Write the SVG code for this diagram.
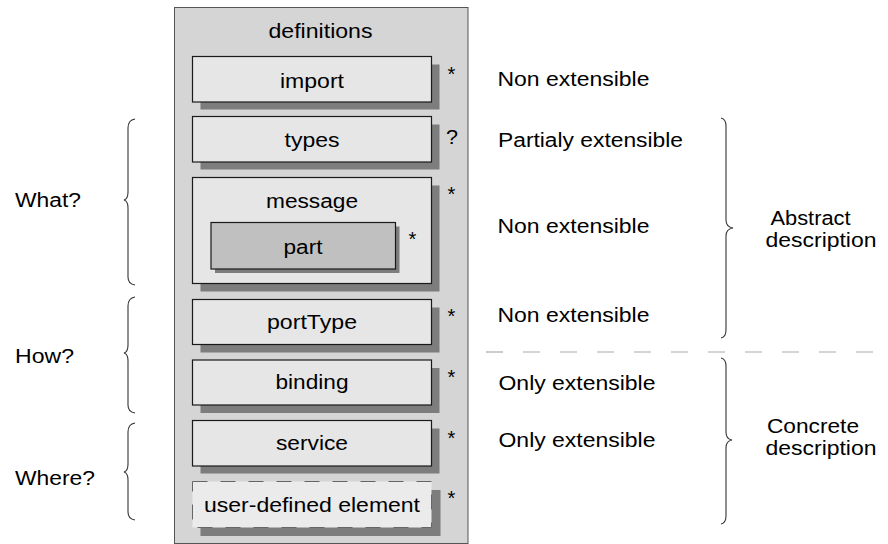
<svg xmlns="http://www.w3.org/2000/svg" width="888" height="544" viewBox="0 0 888 544">
<style>
text{font-family:"Liberation Sans",Arial,sans-serif;font-size:20px;fill:#000}
.c{text-anchor:middle}
.outer{fill:#d5d5d5;stroke:#555;stroke-width:1}
.box{fill:#e6e6e6;stroke:#1a1a1a;stroke-width:1.2}
.part{fill:#c0c0c0;stroke:#1a1a1a;stroke-width:1.2}
.ud{fill:#ebebeb;stroke:#666;stroke-width:1;stroke-dasharray:15 13}
.sh{fill:#7d7d7d}
.brace{fill:none;stroke:#333;stroke-width:1.1}
.sep{fill:none;stroke:#aaa;stroke-width:1.2;stroke-dasharray:17 20}
.star{font-size:20px}
</style>
<rect width="888" height="544" fill="#fff"/>

<g id="definitions">
  <rect class="outer" x="174.5" y="7.5" width="293.5" height="536"/>
  <text class="c" x="320.5" y="37.5" textLength="104" lengthAdjust="spacingAndGlyphs">definitions</text>
</g>

<g id="import">
  <rect class="sh" x="200.5" y="64.5" width="239" height="45"/>
  <rect class="box" x="192.5" y="56.5" width="239" height="45.5"/>
  <text class="c" x="312" y="87.5" textLength="64" lengthAdjust="spacingAndGlyphs">import</text>
  <text class="star" x="447.5" y="81">*</text>
</g>

<g id="types">
  <rect class="sh" x="200.5" y="124.5" width="239" height="45"/>
  <rect class="box" x="192.5" y="116.5" width="239" height="45.5"/>
  <text class="c" x="312" y="147" textLength="55" lengthAdjust="spacingAndGlyphs">types</text>
  <text x="446" y="144" textLength="12" lengthAdjust="spacingAndGlyphs">?</text>
</g>

<g id="message">
  <rect class="sh" x="200.5" y="185.5" width="239" height="106"/>
  <rect class="box" x="192.5" y="177.5" width="239" height="106"/>
  <text class="c" x="312" y="207.5" textLength="92" lengthAdjust="spacingAndGlyphs">message</text>
  <text class="star" x="447.5" y="201">*</text>
</g>

<g id="part">
  <rect class="sh" x="215" y="226.5" width="184.5" height="46.5"/>
  <rect class="part" x="211" y="222.5" width="184.5" height="46.5"/>
  <text class="c" x="303" y="253.5" textLength="39" lengthAdjust="spacingAndGlyphs">part</text>
  <text class="star" x="408.5" y="246">*</text>
</g>

<g id="portType">
  <rect class="sh" x="200.5" y="307.5" width="239" height="45"/>
  <rect class="box" x="192.5" y="299.5" width="239" height="45"/>
  <text class="c" x="312" y="328.5" textLength="90" lengthAdjust="spacingAndGlyphs">portType</text>
  <text class="star" x="447.5" y="323">*</text>
</g>

<g id="binding">
  <rect class="sh" x="200.5" y="368" width="239" height="45"/>
  <rect class="box" x="192.5" y="360" width="239" height="45"/>
  <text class="c" x="312" y="388.5" textLength="73" lengthAdjust="spacingAndGlyphs">binding</text>
  <text class="star" x="447.5" y="384">*</text>
</g>

<g id="service">
  <rect class="sh" x="200.5" y="428.5" width="239" height="45"/>
  <rect class="box" x="192.5" y="420.5" width="239" height="45.5"/>
  <text class="c" x="312" y="450" textLength="72" lengthAdjust="spacingAndGlyphs">service</text>
  <text class="star" x="447.5" y="445">*</text>
</g>

<g id="user-defined-element">
  <rect class="sh" x="200.5" y="490" width="240" height="46"/>
  <rect class="ud" x="192.5" y="481.5" width="239" height="46"/>
  <text class="c" x="312" y="512" textLength="216" lengthAdjust="spacingAndGlyphs">user-defined element</text>
  <text class="star" x="447.5" y="505">*</text>
</g>

<g id="extensibility">
  <text x="497.5" y="86" textLength="152" lengthAdjust="spacingAndGlyphs">Non extensible</text>
  <text x="498" y="147" textLength="185" lengthAdjust="spacingAndGlyphs">Partialy extensible</text>
  <text x="497.5" y="233" textLength="152" lengthAdjust="spacingAndGlyphs">Non extensible</text>
  <text x="497.5" y="322" textLength="152" lengthAdjust="spacingAndGlyphs">Non extensible</text>
  <text x="498.5" y="390" textLength="157" lengthAdjust="spacingAndGlyphs">Only extensible</text>
  <text x="498.5" y="447" textLength="157" lengthAdjust="spacingAndGlyphs">Only extensible</text>
</g>

<g id="what">
  <text x="15" y="207" textLength="66" lengthAdjust="spacingAndGlyphs">What?</text>
</g>
<g id="how">
  <text x="15" y="363" textLength="59" lengthAdjust="spacingAndGlyphs">How?</text>
</g>
<g id="where">
  <text x="15" y="485" textLength="80" lengthAdjust="spacingAndGlyphs">Where?</text>
</g>
<g id="abstract">
  <text x="770.5" y="225" textLength="80" lengthAdjust="spacingAndGlyphs">Abstract</text>
  <text x="765.5" y="247" textLength="111" lengthAdjust="spacingAndGlyphs">description</text>
</g>
<g id="concrete">
  <text x="767" y="433" textLength="92" lengthAdjust="spacingAndGlyphs">Concrete</text>
  <text x="765.5" y="455" textLength="111" lengthAdjust="spacingAndGlyphs">description</text>
</g>

<g id="connectors">
  <path class="brace" d="M135,119 Q128,120 128,128 L128,192 Q128,199 124,200 Q128,201 128,208 L128,277 Q128,284 135,285"/>
  <path class="brace" d="M135,297 Q128,298 128,306 L128,345 Q128,352 124,353 Q128,354 128,361 L128,405 Q128,412 135,413"/>
  <path class="brace" d="M135,423 Q128,424 128,432 L128,464 Q128,471 124,472 Q128,473 128,480 L128,512 Q128,519 135,520"/>
  <path class="brace" d="M721,118 Q726,119 726,126 L726,220 Q726,227 733,228 Q726,229 726,236 L726,330 Q726,337 721,338"/>
  <path class="brace" d="M721,358 Q726,359 726,366 L726,432 Q726,439 732,440 Q726,441 726,448 L726,516 Q726,523 721,524"/>
  <line class="sep" x1="486" y1="352" x2="888" y2="352"/>
</g>
</svg>
